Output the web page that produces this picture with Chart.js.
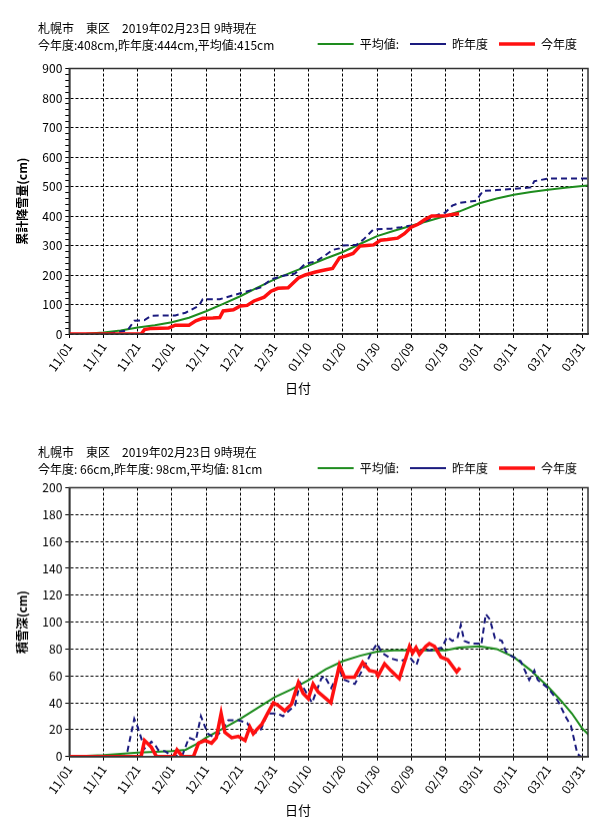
<!DOCTYPE html>
<html lang="ja">
<head>
<meta charset="utf-8">
<title>札幌市 東区 累計降雪量・積雪深</title>
<script src="https://cdn.jsdelivr.net/npm/chart.js@4.4.1/dist/chart.umd.min.js"></script>
<style>
  html, body { margin: 0; padding: 0; background: #fff; }
  body { width: 610px; height: 837px; position: relative; overflow: hidden; font-family: "Noto Sans CJK JP", sans-serif; }
  .box { position: absolute; left: 0; width: 610px; }
  .head { position: absolute; left: 38px; font-size: 12px; line-height: 16px; color: #000; white-space: pre; }
</style>
</head>
<body>
<div class="box" style="top:0px;height:400px"><canvas id="totalChart"></canvas></div>
<div class="box" style="top:424px;height:397.7px"><canvas id="depthChart"></canvas></div>
<div class="head" style="top:20px">札幌市　東区　2019年02月23日 9時現在</div>
<div class="head" style="top:37px">今年度:408cm,昨年度:444cm,平均値:415cm</div>
<div class="head" style="top:444px">札幌市　東区　2019年02月23日 9時現在</div>
<div class="head" style="top:461px">今年度: 66cm,昨年度: 98cm,平均値: 81cm</div>
<script>
// x axis = days since 11/01
const tickDays = [0, 10, 20, 30, 40, 50, 60, 70, 80, 90, 100, 110, 120, 130, 140, 150];
const dateLabels = ['11/01', '11/11', '11/21', '12/01', '12/11', '12/21', '12/31', '01/10',
  '01/20', '01/30', '02/09', '02/19', '03/01', '03/11', '03/21', '03/31'];
const seriesNames = ['平均値:', '昨年度', '今年度'];

// 累計降雪量 (cm)
const avgTotalDays = [0, 5, 10, 15, 20, 25, 30, 35, 40, 45, 50, 55, 60, 65, 70, 75, 80, 85, 90, 95,
  100, 105, 110, 114, 120, 125, 130, 135, 140, 145, 150, 152];
const avgTotal = [0, 1, 5, 12, 22, 30, 40, 55, 77, 102, 128, 157, 185, 209, 232, 256, 278, 305, 332, 350,
  367, 383, 400, 415, 443, 459, 472, 481, 489, 496, 502, 504];

const lastTotalDays = [0, 7, 12, 16, 17, 19, 22, 24, 31, 34, 37, 38, 39, 44, 47, 50, 53, 56, 59, 62,
  66, 69, 72, 75, 77, 79, 80, 84, 86, 89, 94, 97, 100, 103, 106, 108, 110, 112, 114, 119,
  121, 125, 130, 135, 136, 140, 152];
const lastTotal = [0, 0, 3, 10, 12, 45, 47, 62, 63, 72, 90, 97, 118, 118, 128, 138, 148, 158, 185, 196,
  205, 238, 245, 268, 285, 290, 300, 302, 320, 355, 357, 362, 368, 375, 395, 405, 412, 435, 444, 452,
  485, 488, 492, 497, 518, 527, 527];

const thisTotalDays = [0, 21, 22, 24, 29, 31, 35, 37, 39, 42, 44, 45, 48, 50, 52, 54, 57, 59, 61, 64,
  67, 69, 72, 75, 77, 79, 81, 83, 85, 87, 89, 91, 93, 96, 98, 100, 102, 104, 106, 110, 112, 114];
const thisTotal = [0, 0, 15, 19, 20, 30, 30, 45, 53, 54, 56, 78, 82, 95, 97, 112, 125, 145, 155, 157,
  190, 200, 210, 218, 222, 258, 265, 273, 298, 300, 302, 318, 320, 325, 340, 362, 372, 388, 400, 401, 405, 408];

// 積雪深 (cm)
const avgDepthDays = [0, 5, 10, 15, 20, 25, 30, 34, 37, 40, 45, 50, 55, 60, 65, 70, 75, 80, 85, 90,
  95, 100, 105, 110, 114, 120, 125, 130, 135, 140, 144, 147, 150, 152];
const avgDepth = [0, 0.5, 1, 2, 3, 3.5, 4, 5, 9, 14, 21, 28, 36, 44, 50, 57, 65, 71, 75, 78,
  79, 79, 79, 79, 81, 82, 80, 74, 64, 52, 41, 32, 21, 16];

const lastDepthDays = [0, 16, 17, 19, 20, 21, 22, 24, 25, 26, 28, 30, 33, 35, 37, 38.5, 40.5, 42.5, 44.5, 46.5,
  49.5, 52, 54, 56, 58, 61, 62.5, 66, 67.5, 69, 71, 73.7, 74.6, 76.6, 79, 80.5, 83.5, 86.5, 88.5, 90,
  91.5, 94, 97, 99.5, 101.5, 103, 106, 109, 110.5, 112, 113.5, 114.5, 115.5, 117.5, 120, 120.5, 121.8, 123, 124.5, 126.5,
  127.7, 129.2, 132, 134.5, 136, 137, 140, 143, 145.3, 146.7, 148.6, 149.6, 150.6];
const lastDepth = [0, 0.5, 4, 28, 22, 14, 6, 11, 9, 5, 4, 0.5, 0.5, 14, 12, 30, 17, 14, 19, 27,
  27, 25, 17, 20, 32, 32, 30, 38, 55, 49, 40, 58, 60, 51, 64, 57, 54, 68, 78, 84,
  77, 73, 71, 74, 68, 79, 79, 81, 89, 86, 88, 98, 86, 84, 84, 83, 106, 102, 88, 86,
  78, 75, 71, 57, 64, 57, 51, 41, 29, 23, 2, 0, 0];

const thisDepthDays = [0, 21, 22, 24, 25.5, 30.5, 31.5, 32.5, 33, 36.3, 37.8, 39.7, 41.6, 43, 44.4, 45.5, 47.5, 49.4, 51.4, 52.8,
  53.8, 54.8, 56.3, 58.2, 59.7, 61.1, 63, 65, 67, 68.4, 69.9, 71.3, 72.8, 76.5, 79, 80.5, 83.4, 85.8, 87.8, 89.7,
  90.3, 92.2, 94, 96.5, 99.5, 100.4, 101.4, 102.4, 104.3, 105.3, 106.8, 108.7, 110.7, 113.3, 114.3];
const thisDepth = [0, 0, 12, 7, 0, 0, 5, 2, 0, 0, 10, 12, 10, 14, 32, 18, 14, 15, 12, 22,
  17, 20, 24, 33, 40, 38, 34, 39, 55, 47, 43, 54, 48, 40, 68, 59, 59, 70, 64, 63,
  60, 69, 64, 58, 82, 77, 81, 76, 82, 84, 82, 74, 72, 63, 66];

const seriesColors = ['#1e8c1e', '#1a1a7e', '#ff1010'];

function pts(days, vals) {
  return days.map((d, i) => ({ x: d, y: vals[i] }));
}

// plot frame around the chart area
const frame = {
  id: 'frame',
  afterDatasetsDraw(chart) {
    const { ctx, chartArea: a } = chart;
    ctx.save();
    ctx.strokeStyle = '#333';
    ctx.lineWidth = 1.5;
    ctx.strokeRect(a.left, a.top, a.right - a.left, a.bottom - a.top);
    ctx.restore();
  }
};

// extra room under the legend row
function legendGap(extra) {
  return {
    id: 'legendGap',
    beforeLayout(chart) {
      const lg = chart.legend;
      if (lg && !lg._gapDone) {
        const fit = lg.fit;
        lg.fit = function () { fit.call(this); this.height += extra; };
        lg._gapDone = true;
      }
    }
  };
}

Chart.defaults.font.family = '"Noto Sans CJK JP", sans-serif';
Chart.defaults.font.size = 12;
Chart.defaults.color = '#000';

function makeChart(id, yMax, yStep, minorStep, yTitle, gap, avg, last, cur) {
  return new Chart(document.getElementById(id), {
    type: 'line',
    data: {
      datasets: [
        { label: seriesNames[0], data: avg, borderColor: seriesColors[0], backgroundColor: seriesColors[0],
          borderWidth: 2, pointRadius: 0, order: 3 },
        { label: seriesNames[1], data: last, borderColor: seriesColors[1], backgroundColor: seriesColors[1],
          borderWidth: 2, borderDash: [6, 4], pointRadius: 0, order: 2 },
        { label: seriesNames[2], data: cur, borderColor: seriesColors[2], backgroundColor: seriesColors[2],
          borderWidth: 3.5, pointRadius: 0, order: 1 }
      ]
    },
    options: {
      responsive: true,
      maintainAspectRatio: false,
      animation: false,
      layout: { padding: { left: 8, right: 22, top: 27, bottom: 0.4 } },
      plugins: {
        legend: {
          position: 'top',
          align: 'end',
          labels: {
            usePointStyle: true, pointStyle: 'line', pointStyleWidth: 36, padding: 11,
            color: '#000', font: { size: 12 },
            sort: (a, b) => a.datasetIndex - b.datasetIndex
          }
        },
        title: {
          display: true, text: '日付', position: 'bottom', color: '#000',
          font: { size: 13, weight: 'normal' }, padding: { top: 2, bottom: 4 }
        },
        tooltip: { enabled: false }
      },
      scales: {
        x: {
          type: 'linear', min: 0, max: 151.7,
          afterBuildTicks: axis => { axis.ticks = tickDays.map(v => ({ value: v })); },
          afterFit: axis => { axis.height = 44; },
          ticks: { autoSkip: false, minRotation: 55, maxRotation: 55, padding: 2, color: '#000',
            callback: (v, i) => dateLabels[i] },
          grid: { color: '#000', tickColor: '#000', tickLength: 4, lineWidth: 1 },
          border: { color: '#000', width: 1.5, dash: [3, 2] }
        },
        y: {
          min: 0, max: yMax,
          afterFit: axis => { axis.width = 61.3; },
          ticks: { stepSize: minorStep, autoSkip: false, padding: 3, color: '#000',
            callback: v => (v % yStep === 0 ? v : '') },
          grid: {
            color: c => (c.tick && c.tick.value % yStep === 0 ? '#000' : 'rgba(0,0,0,0)'),
            tickColor: '#000', tickLength: 4, lineWidth: 1
          },
          border: { color: '#000', width: 1.5, dash: [3, 2] },
          title: { display: true, text: yTitle, color: '#000', font: { size: 12, weight: 'bold' },
            padding: { top: 7, bottom: 0 } }
        }
      }
    },
    plugins: [frame, legendGap(gap)]
  });
}

makeChart('totalChart', 900, 100, 20, '累計降雪量(cm)', 8.5,
  pts(avgTotalDays, avgTotal), pts(lastTotalDays, lastTotal), pts(thisTotalDays, thisTotal));
makeChart('depthChart', 200, 20, 20, '積雪深(cm)', 3.5,
  pts(avgDepthDays, avgDepth), pts(lastDepthDays, lastDepth), pts(thisDepthDays, thisDepth));
</script>
</body>
</html>
